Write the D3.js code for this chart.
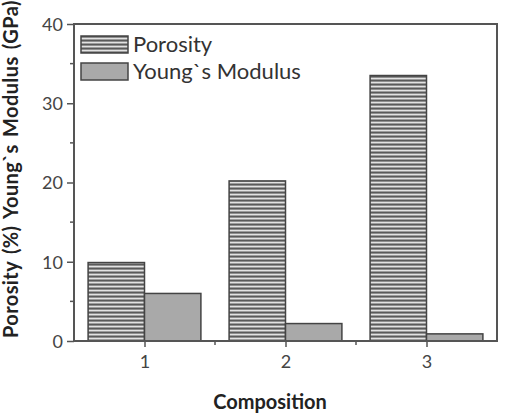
<!DOCTYPE html>
<html>
<head>
<meta charset="utf-8">
<script src="https://cdn.jsdelivr.net/npm/d3@7"></script>
<style>
body { margin: 0; background: #fff; }
svg { display: block; font-family: Lato, "Open Sans", sans-serif; }
</style>
</head>
<body>
<svg id="chart" width="505" height="420"></svg>
<script>
// data
var compositions = [1, 2, 3];
var porosity = [9.9, 20.2, 33.5];
var youngs = [6.0, 2.2, 0.9];
var seriesNames = ["Porosity", "Young`s Modulus"];
var yTicks = [0, 10, 20, 30, 40];
var yMinorTicks = [5, 15, 25, 35];
var xMinorTicks = [1.5, 2.5];

var svg = d3.select("#chart");
//plot box edges
var plotLeft = 74, plotRight = 497, plotTop = 24, plotBottom = 341;
var axisColor = "#555";

var x = d3.scaleLinear().domain([0.5, 3.5]).range([plotLeft, plotRight]);
var y = d3.scaleLinear().domain([0, 40]).range([plotBottom, plotTop]);
var barW = 0.4;

// stripe pattern for porosity
var defs = svg.append("defs");
var pat = defs.append("pattern").attr("id", "stripes")
    .attr("patternUnits", "userSpaceOnUse").attr("width", 8).attr("height", 4);
pat.append("rect").attr("width", 8).attr("height", 4).attr("fill", "#9c9c9c");
pat.append("rect").attr("y", 0).attr("width", 8).attr("height", 1.2).attr("fill", "#5a5a5a");
pat.append("rect").attr("y", 2).attr("width", 8).attr("height", 1).attr("fill", "#e2e2e2");

var bars = svg.append("g");
//porosity bars, left of the tick
bars.selectAll(".por").data(compositions).enter().append("rect")
    .attr("x", function (d) { return x(d - barW); })
    .attr("y", function (d, i) { return y(porosity[i]); })
    .attr("width", function (d) { return x(d) - x(d - barW); })
    .attr("height", function (d, i) { return y(0) - y(porosity[i]); })
    .attr("fill", "url(#stripes)").attr("stroke", "#444").attr("stroke-width", 1.5);
//young's modulus bars, right of the tick
bars.selectAll(".ym").data(compositions).enter().append("rect")
    .attr("x", function (d) { return x(d); })
    .attr("y", function (d, i) { return y(youngs[i]); })
    .attr("width", function (d) { return x(d + barW) - x(d); })
    .attr("height", function (d, i) { return y(0) - y(youngs[i]); })
    .attr("fill", "#a9a9a9").attr("stroke", "#444").attr("stroke-width", 1.5);

// axes
var yAxis = d3.axisLeft(y).tickValues(yTicks).tickSize(7).tickPadding(4);
var gy = svg.append("g").attr("transform", "translate(" + plotLeft + ",0)").call(yAxis);
var xAxis = d3.axisBottom(x).tickValues(compositions).tickSize(6).tickPadding(8).tickFormat(d3.format("d"));
var gx = svg.append("g").attr("transform", "translate(0," + plotBottom + ")").call(xAxis);
[gy, gx].forEach(function (g) {
    g.select(".domain").remove();
    g.selectAll(".tick line").attr("stroke", axisColor).attr("stroke-width", 1.5);
    g.selectAll(".tick text").attr("fill", "#444").style("font-size", "18px")
        .style("font-family", "Lato, sans-serif");
});
gy.selectAll(".tick text").attr("dy", "0.36em");

// minor ticks
svg.append("g").selectAll("line").data(yMinorTicks).enter().append("line")
    .attr("x1", plotLeft - 4).attr("x2", plotLeft).attr("y1", y).attr("y2", y)
    .attr("stroke", axisColor).attr("stroke-width", 1.5);
svg.append("g").selectAll("line").data(xMinorTicks).enter().append("line")
    .attr("x1", x).attr("x2", x).attr("y1", plotBottom).attr("y2", plotBottom + 4)
    .attr("stroke", axisColor).attr("stroke-width", 1.5);

// frame
svg.append("rect").attr("x", plotLeft).attr("y", plotTop)
    .attr("width", plotRight - plotLeft).attr("height", plotBottom - plotTop)
    .attr("fill", "none").attr("stroke", axisColor).attr("stroke-width", 2);

// legend
var legend = svg.append("g");
var legendFills = ["url(#stripes)", "#a9a9a9"];
seriesNames.forEach(function (name, i) {
    var ly = 36 + i * 27;
    legend.append("rect").attr("x", 81).attr("y", ly).attr("width", 47).attr("height", 17)
        .attr("fill", legendFills[i]).attr("stroke", "#444").attr("stroke-width", 1.5);
    legend.append("text").attr("x", 133).attr("y", ly + 16).text(name)
        .attr("fill", "#333").style("font-size", "22px");
});

// axis titles
svg.append("text").attr("x", 270).attr("y", 409).attr("text-anchor", "middle")
    .style("font-size", "20px").style("font-weight", "bold").attr("fill", "#222")
    .text("Composition");
svg.append("text").attr("transform", "translate(18,338) rotate(-90)")
    .style("font-size", "20px").style("font-weight", "bold").attr("fill", "#222")
    .style("word-spacing", "2px").style("letter-spacing", "0.4px")
    .text("Porosity (%) Young`s Modulus (GPa)");
</script>
</body>
</html>
